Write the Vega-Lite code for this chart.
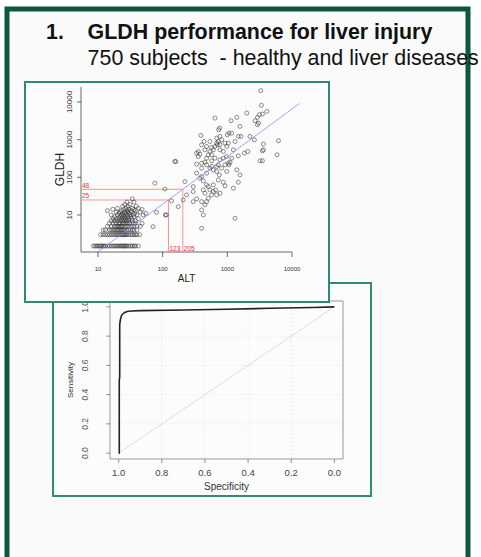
{
  "$schema": "https://vega.github.io/schema/vega-lite/v6.json",
  "width": 461,
  "height": 555,
  "autosize": {"type": "none"},
  "padding": {"left": 7, "top": 9, "right": 13, "bottom": 0},
  "background": "#ffffff",
  "config": {
    "view": {"stroke": "#0b5741", "strokeWidth": 5, "fill": "#fafafa"},
    "font": "Liberation Sans",
    "text": {"font": "Liberation Sans"}
  },
  "title": {
    "text": "1.\u00a0\u00a0\u00a0\u00a0GLDH performance for liver injury",
    "subtitle": "\u200b\u00a0\u00a0\u00a0\u00a0\u00a0\u00a0\u00a0750 subjects \u00a0- healthy and liver diseases",
    "anchor": "start", "frame": "group", "dx": 39, "offset": -60,
    "font": "Liberation Sans", "fontSize": 21.4, "fontWeight": "bold", "color": "#111111",
    "subtitleFont": "Liberation Sans", "subtitleFontSize": 21.4, "subtitleColor": "#111111", "subtitlePadding": 4
  },
  "datasets": {
    "sc": [
      {"ALT":8.5,"GLDH":1.5},{"ALT":9,"GLDH":1.5},{"ALT":9.5,"GLDH":1.5},{"ALT":10,"GLDH":1.5},{"ALT":10.5,"GLDH":1.5},{"ALT":11,"GLDH":1.5},{"ALT":11.5,"GLDH":1.5},{"ALT":12,"GLDH":1.5},{"ALT":12.5,"GLDH":1.5},{"ALT":13,"GLDH":1.5},{"ALT":14,"GLDH":1.5},{"ALT":15,"GLDH":1.5},{"ALT":16,"GLDH":1.5},{"ALT":17,"GLDH":1.5},{"ALT":18,"GLDH":1.5},{"ALT":19,"GLDH":1.5},{"ALT":20,"GLDH":1.5},{"ALT":21,"GLDH":1.5},{"ALT":22,"GLDH":1.5},{"ALT":23,"GLDH":1.5},{"ALT":24,"GLDH":1.5},{"ALT":25,"GLDH":1.5},{"ALT":26,"GLDH":1.5},{"ALT":27,"GLDH":1.5},{"ALT":28,"GLDH":1.5},{"ALT":30,"GLDH":1.5},{"ALT":32,"GLDH":1.5},{"ALT":34,"GLDH":1.5},{"ALT":36,"GLDH":1.5},{"ALT":38,"GLDH":1.5},{"ALT":42,"GLDH":1.5},
      {"ALT":11,"GLDH":3},{"ALT":12,"GLDH":3},{"ALT":13,"GLDH":3},{"ALT":14,"GLDH":3},{"ALT":15,"GLDH":3},{"ALT":16,"GLDH":3},{"ALT":17,"GLDH":3},{"ALT":18,"GLDH":3},{"ALT":19,"GLDH":3},{"ALT":20,"GLDH":3},{"ALT":21,"GLDH":3},{"ALT":22,"GLDH":3},{"ALT":23,"GLDH":3},{"ALT":24,"GLDH":3},{"ALT":25,"GLDH":3},{"ALT":26,"GLDH":3},{"ALT":27,"GLDH":3},{"ALT":28,"GLDH":3},{"ALT":30,"GLDH":3},{"ALT":32,"GLDH":3},{"ALT":34,"GLDH":3},{"ALT":36,"GLDH":3},{"ALT":38,"GLDH":3},{"ALT":40,"GLDH":3},{"ALT":44,"GLDH":3},
      {"ALT":12,"GLDH":4},{"ALT":13,"GLDH":4},{"ALT":15,"GLDH":4},{"ALT":16,"GLDH":4},{"ALT":17,"GLDH":4},{"ALT":18,"GLDH":4},{"ALT":19,"GLDH":4},{"ALT":20,"GLDH":4},{"ALT":21,"GLDH":4},{"ALT":22,"GLDH":4},{"ALT":23,"GLDH":4},{"ALT":24,"GLDH":4},{"ALT":25,"GLDH":4},{"ALT":26,"GLDH":4},{"ALT":28,"GLDH":4},{"ALT":30,"GLDH":4},{"ALT":32,"GLDH":4},{"ALT":34,"GLDH":4},{"ALT":36,"GLDH":4},{"ALT":40,"GLDH":4},
      {"ALT":14,"GLDH":5},{"ALT":16,"GLDH":5},{"ALT":18,"GLDH":5},{"ALT":19,"GLDH":5},{"ALT":20,"GLDH":5},{"ALT":21,"GLDH":5},{"ALT":22,"GLDH":5},{"ALT":23,"GLDH":5},{"ALT":24,"GLDH":5},{"ALT":26,"GLDH":5},{"ALT":28,"GLDH":5},{"ALT":30,"GLDH":5},{"ALT":33,"GLDH":5},{"ALT":36,"GLDH":5},{"ALT":40,"GLDH":5},{"ALT":45,"GLDH":5},
      {"ALT":15,"GLDH":6},{"ALT":17,"GLDH":6},{"ALT":19,"GLDH":6},{"ALT":21,"GLDH":6},{"ALT":22,"GLDH":6},{"ALT":24,"GLDH":6},{"ALT":25,"GLDH":6},{"ALT":27,"GLDH":6},{"ALT":29,"GLDH":6},{"ALT":31,"GLDH":6},{"ALT":35,"GLDH":6},{"ALT":38,"GLDH":6},{"ALT":48,"GLDH":6},
      {"ALT":16,"GLDH":7},{"ALT":18,"GLDH":7},{"ALT":20,"GLDH":7},{"ALT":22,"GLDH":7},{"ALT":24,"GLDH":7},{"ALT":26,"GLDH":7},{"ALT":28,"GLDH":7},{"ALT":30,"GLDH":7},{"ALT":34,"GLDH":7},{"ALT":38,"GLDH":7},
      {"ALT":17,"GLDH":8},{"ALT":19,"GLDH":8},{"ALT":21,"GLDH":8},{"ALT":23,"GLDH":8},{"ALT":25,"GLDH":8},{"ALT":27,"GLDH":8},{"ALT":30,"GLDH":8},{"ALT":33,"GLDH":8},{"ALT":42,"GLDH":8},
      {"ALT":18,"GLDH":9},{"ALT":22,"GLDH":9},{"ALT":24,"GLDH":9},{"ALT":26,"GLDH":9},{"ALT":29,"GLDH":9},{"ALT":32,"GLDH":9},{"ALT":36,"GLDH":9},
      {"ALT":16,"GLDH":10},{"ALT":20,"GLDH":10},{"ALT":23,"GLDH":10},{"ALT":25,"GLDH":10},{"ALT":28,"GLDH":10},{"ALT":31,"GLDH":10},{"ALT":35,"GLDH":10},{"ALT":40,"GLDH":10},{"ALT":50,"GLDH":10},
      {"ALT":21,"GLDH":11},{"ALT":24,"GLDH":11},{"ALT":27,"GLDH":11},{"ALT":30,"GLDH":11},{"ALT":37,"GLDH":11},{"ALT":55,"GLDH":11},
      {"ALT":19,"GLDH":12},{"ALT":22,"GLDH":12},{"ALT":26,"GLDH":12},{"ALT":29,"GLDH":12},{"ALT":33,"GLDH":12},{"ALT":45,"GLDH":12},
      {"ALT":14,"GLDH":13},{"ALT":23,"GLDH":13},{"ALT":28,"GLDH":13},{"ALT":32,"GLDH":13},{"ALT":38,"GLDH":13},
      {"ALT":25,"GLDH":14},{"ALT":30,"GLDH":14},{"ALT":36,"GLDH":14},{"ALT":48,"GLDH":14},
      {"ALT":20,"GLDH":15},{"ALT":27,"GLDH":15},{"ALT":34,"GLDH":15},{"ALT":42,"GLDH":15},
      {"ALT":24,"GLDH":17},{"ALT":29,"GLDH":17},{"ALT":39,"GLDH":17},
      {"ALT":26,"GLDH":19},{"ALT":31,"GLDH":19},{"ALT":28,"GLDH":22},{"ALT":36,"GLDH":22},
      {"ALT":34,"GLDH":26.6},{"ALT":17,"GLDH":14.2},
      {"ALT":75.6,"GLDH":70},{"ALT":108,"GLDH":49},{"ALT":137,"GLDH":23.6},{"ALT":154,"GLDH":263},{"ALT":160,"GLDH":263},{"ALT":174,"GLDH":16.7},{"ALT":208,"GLDH":25},{"ALT":221,"GLDH":77},{"ALT":234,"GLDH":34},{"ALT":80,"GLDH":11.8},{"ALT":114,"GLDH":10},{"ALT":110,"GLDH":10},{"ALT":71,"GLDH":4.9},
      {"ALT":3290,"GLDH":20000},{"ALT":3370,"GLDH":8130},{"ALT":4070,"GLDH":5630},{"ALT":3490,"GLDH":4780},{"ALT":3130,"GLDH":4590},{"ALT":2920,"GLDH":3900},{"ALT":2690,"GLDH":3180},{"ALT":2920,"GLDH":2490},{"ALT":3030,"GLDH":2750},{"ALT":2000,"GLDH":5080},{"ALT":1400,"GLDH":3900},{"ALT":1140,"GLDH":3180},{"ALT":644,"GLDH":3740},{"ALT":760,"GLDH":2030},{"ALT":734,"GLDH":1830},{"ALT":1570,"GLDH":2245},{"ALT":1167,"GLDH":1490},{"ALT":1062,"GLDH":1490},{"ALT":1000,"GLDH":1350},{"ALT":1480,"GLDH":1217},{"ALT":1630,"GLDH":1217},{"ALT":2240,"GLDH":1217},{"ALT":2620,"GLDH":991},{"ALT":3610,"GLDH":760},{"ALT":6180,"GLDH":933},{"ALT":5890,"GLDH":396},{"ALT":3610,"GLDH":537},{"ALT":3490,"GLDH":505},{"ALT":3210,"GLDH":274},{"ALT":3490,"GLDH":274},{"ALT":2070,"GLDH":485},{"ALT":1835,"GLDH":438},{"ALT":1480,"GLDH":372},{"ALT":1100,"GLDH":252},{"ALT":1037,"GLDH":237},{"ALT":977,"GLDH":357},{"ALT":867,"GLDH":485},{"ALT":769,"GLDH":537},{"ALT":769,"GLDH":730},{"ALT":684,"GLDH":809},{"ALT":644,"GLDH":659},{"ALT":684,"GLDH":1099},{"ALT":725,"GLDH":895},{"ALT":817,"GLDH":991},{"ALT":700,"GLDH":730},{"ALT":538,"GLDH":895},{"ALT":478,"GLDH":659},{"ALT":400,"GLDH":730},{"ALT":391,"GLDH":1294},{"ALT":435,"GLDH":895},{"ALT":571,"GLDH":620},{"ALT":607,"GLDH":537},{"ALT":507,"GLDH":396},{"ALT":478,"GLDH":322},{"ALT":377,"GLDH":412},{"ALT":335,"GLDH":438},{"ALT":355,"GLDH":357},{"ALT":335,"GLDH":223},{"ALT":400,"GLDH":237},{"ALT":400,"GLDH":175},{"ALT":478,"GLDH":214},{"ALT":571,"GLDH":194},{"ALT":607,"GLDH":158},{"ALT":538,"GLDH":175},{"ALT":684,"GLDH":143},{"ALT":751,"GLDH":116},{"ALT":725,"GLDH":85.5},{"ALT":867,"GLDH":74.1},{"ALT":920,"GLDH":59.2},{"ALT":1239,"GLDH":51.3},{"ALT":1480,"GLDH":74.1},{"ALT":1570,"GLDH":116},{"ALT":1400,"GLDH":158},{"ALT":1062,"GLDH":214},{"ALT":769,"GLDH":291},{"ALT":644,"GLDH":322},{"ALT":571,"GLDH":396},{"ALT":478,"GLDH":129},{"ALT":400,"GLDH":105},{"ALT":425,"GLDH":80.4},{"ALT":478,"GLDH":63},{"ALT":425,"GLDH":46.3},{"ALT":538,"GLDH":46.3},{"ALT":607,"GLDH":41.8},{"ALT":571,"GLDH":34.1},{"ALT":507,"GLDH":27.8},{"ALT":478,"GLDH":22.6},{"ALT":451,"GLDH":18.5},{"ALT":400,"GLDH":22.6},{"ALT":684,"GLDH":34.1},{"ALT":769,"GLDH":37.8},{"ALT":297,"GLDH":56.8},{"ALT":297,"GLDH":41.8},{"ALT":297,"GLDH":22.6},{"ALT":335,"GLDH":26.7},{"ALT":400,"GLDH":13.6},{"ALT":425,"GLDH":10},{"ALT":400,"GLDH":4.42},{"ALT":1315,"GLDH":8.15},{"ALT":1037,"GLDH":809},{"ALT":1239,"GLDH":537},{"ALT":920,"GLDH":809},{"ALT":769,"GLDH":1217},{"ALT":355,"GLDH":485},{"ALT":725,"GLDH":214},{"ALT":817,"GLDH":175},{"ALT":684,"GLDH":194},{"ALT":977,"GLDH":143},{"ALT":335,"GLDH":129},{"ALT":377,"GLDH":94.6},{"ALT":607,"GLDH":63},{"ALT":451,"GLDH":37.8},{"ALT":507,"GLDH":56.8},{"ALT":659,"GLDH":46.3},{"ALT":538,"GLDH":485},{"ALT":451,"GLDH":537},{"ALT":867,"GLDH":322},{"ALT":920,"GLDH":214},{"ALT":1167,"GLDH":322},{"ALT":1315,"GLDH":895},{"ALT":977,"GLDH":659},{"ALT":571,"GLDH":274},{"ALT":451,"GLDH":252}
    ],
    "fit": [{"ALT": 10, "GLDH": 1.06}, {"ALT": 13000, "GLDH": 9100}],
    "cut": [
      {"ALT": 5.46, "ALT2": 205, "GLDH": 48, "GLDH2": 48},
      {"ALT": 5.46, "ALT2": 123, "GLDH": 25, "GLDH2": 25},
      {"ALT": 123, "ALT2": 123, "GLDH": 1.04, "GLDH2": 25},
      {"ALT": 205, "ALT2": 205, "GLDH": 1.04, "GLDH2": 48}
    ],
    "cutlab": [
      {"ALT": 5.46, "GLDH": 48, "label": "48"},
      {"ALT": 5.46, "GLDH": 25, "label": "25"},
      {"ALT": 123, "GLDH": 1.04, "label": "123"},
      {"ALT": 205, "GLDH": 1.04, "label": "205"}
    ],
    "sticks": [{"v": 10}, {"v": 100}, {"v": 1000}, {"v": 10000}],
    "roc": [
      {"spec": 1.0, "sens": 0.0}, {"spec": 0.997, "sens": 0.001}, {"spec": 0.997, "sens": 0.5}, {"spec": 0.995, "sens": 0.52}, {"spec": 0.995, "sens": 0.88}, {"spec": 0.992, "sens": 0.91}, {"spec": 0.988, "sens": 0.935}, {"spec": 0.982, "sens": 0.95}, {"spec": 0.972, "sens": 0.962}, {"spec": 0.96, "sens": 0.968}, {"spec": 0.94, "sens": 0.972}, {"spec": 0.9, "sens": 0.974}, {"spec": 0.7, "sens": 0.978}, {"spec": 0.5, "sens": 0.984}, {"spec": 0.3, "sens": 0.99}, {"spec": 0.1, "sens": 0.996}, {"spec": 0.0, "sens": 1.0}
    ],
    "diag": [{"spec": 1, "sens": 0}, {"spec": 0, "sens": 1}],
    "grid": [{"g": 0.2}, {"g": 0.4}, {"g": 0.6}, {"g": 0.8}],
    "rticks": [{"v": 0}, {"v": 0.2}, {"v": 0.4}, {"v": 0.6}, {"v": 0.8}, {"v": 1}]
  },
  "layer": [
    {
      "layer": [
        {
          "data": {"values": [{}]},
          "mark": {"type": "rect", "fill": "#fcfcfc", "stroke": "#2e8a70", "strokeWidth": 2},
          "encoding": {
            "x": {"datum": 1.304, "type": "quantitative", "scale": {"domain": [-0.04, 1.04], "range": [336, 103], "nice": false, "zero": false}, "axis": null},
            "x2": {"datum": -0.17},
            "y": {"datum": 1.163, "type": "quantitative", "scale": {"domain": [-0.04, 1.04], "range": [450, 292], "nice": false, "zero": false}, "axis": null},
            "y2": {"datum": -0.293}
          }
        },
        {
          "data": {"name": "grid"},
          "mark": {"type": "rule", "stroke": "#e4e4e4", "strokeWidth": 0.7, "strokeDash": [2, 2]},
          "encoding": {
            "x": {"field": "g", "type": "quantitative", "scale": {"domain": [-0.04, 1.04], "range": [336, 103], "nice": false, "zero": false}, "axis": null},
            "y": {"datum": -0.04, "type": "quantitative", "scale": {"domain": [-0.04, 1.04], "range": [450, 292], "nice": false, "zero": false}, "axis": null},
            "y2": {"datum": 1.04}
          }
        },
        {
          "data": {"name": "grid"},
          "mark": {"type": "rule", "stroke": "#e4e4e4", "strokeWidth": 0.7, "strokeDash": [2, 2]},
          "encoding": {
            "y": {"field": "g", "type": "quantitative", "scale": {"domain": [-0.04, 1.04], "range": [450, 292], "nice": false, "zero": false}, "axis": null},
            "x": {"datum": -0.04, "type": "quantitative", "scale": {"domain": [-0.04, 1.04], "range": [336, 103], "nice": false, "zero": false}, "axis": null},
            "x2": {"datum": 1.04}
          }
        },
        {
          "data": {"values": [{}]},
          "mark": {"type": "rect", "fillOpacity": 0, "stroke": "#999999", "strokeWidth": 1},
          "encoding": {
            "x": {"datum": 1.04, "type": "quantitative", "scale": {"domain": [-0.04, 1.04], "range": [336, 103], "nice": false, "zero": false}, "axis": null},
            "x2": {"datum": -0.04},
            "y": {"datum": 1.04, "type": "quantitative", "scale": {"domain": [-0.04, 1.04], "range": [450, 292], "nice": false, "zero": false}, "axis": null},
            "y2": {"datum": -0.04}
          }
        },
        {
          "data": {"name": "rticks"},
          "mark": {"type": "rule", "stroke": "#777777", "strokeWidth": 0.8, "y2Offset": 4},
          "encoding": {
            "x": {"field": "v", "type": "quantitative", "scale": {"domain": [-0.04, 1.04], "range": [336, 103], "nice": false, "zero": false}, "axis": null},
            "y": {"datum": -0.04, "type": "quantitative", "scale": {"domain": [-0.04, 1.04], "range": [450, 292], "nice": false, "zero": false}, "axis": null},
            "y2": {"datum": -0.04}
          }
        },
        {
          "data": {"name": "rticks"},
          "mark": {"type": "text", "fontSize": 9.5, "color": "#444444", "align": "center", "baseline": "middle", "yOffset": 14},
          "encoding": {
            "x": {"field": "v", "type": "quantitative", "scale": {"domain": [-0.04, 1.04], "range": [336, 103], "nice": false, "zero": false}, "axis": null},
            "y": {"datum": -0.04, "type": "quantitative", "scale": {"domain": [-0.04, 1.04], "range": [450, 292], "nice": false, "zero": false}, "axis": null},
            "text": {"field": "v", "type": "quantitative", "format": ".1f"}
          }
        },
        {
          "data": {"name": "rticks"},
          "mark": {"type": "rule", "stroke": "#777777", "strokeWidth": 0.8, "x2Offset": -4},
          "encoding": {
            "y": {"field": "v", "type": "quantitative", "scale": {"domain": [-0.04, 1.04], "range": [450, 292], "nice": false, "zero": false}, "axis": null},
            "x": {"datum": 1.04, "type": "quantitative", "scale": {"domain": [-0.04, 1.04], "range": [336, 103], "nice": false, "zero": false}, "axis": null},
            "x2": {"datum": 1.04}
          }
        },
        {
          "data": {"name": "rticks"},
          "mark": {"type": "text", "fontSize": 8.5, "color": "#555555", "align": "center", "baseline": "middle", "angle": 270, "xOffset": -25},
          "encoding": {
            "y": {"field": "v", "type": "quantitative", "scale": {"domain": [-0.04, 1.04], "range": [450, 292], "nice": false, "zero": false}, "axis": null},
            "x": {"datum": 1.04, "type": "quantitative", "scale": {"domain": [-0.04, 1.04], "range": [336, 103], "nice": false, "zero": false}, "axis": null},
            "text": {"field": "v", "type": "quantitative", "format": ".1f"}
          }
        },
        {
          "data": {"values": [{}]},
          "mark": {"type": "text", "text": "Specificity", "fontSize": 10, "color": "#333333", "align": "center", "baseline": "middle", "yOffset": 28},
          "encoding": {
            "x": {"datum": 0.5, "type": "quantitative", "scale": {"domain": [-0.04, 1.04], "range": [336, 103], "nice": false, "zero": false}, "axis": null},
            "y": {"datum": -0.04, "type": "quantitative", "scale": {"domain": [-0.04, 1.04], "range": [450, 292], "nice": false, "zero": false}, "axis": null}
          }
        },
        {
          "data": {"values": [{}]},
          "mark": {"type": "text", "text": "Sensitivity", "fontSize": 8, "color": "#333333", "align": "center", "baseline": "middle", "angle": 270, "xOffset": -39},
          "encoding": {
            "x": {"datum": 1.04, "type": "quantitative", "scale": {"domain": [-0.04, 1.04], "range": [336, 103], "nice": false, "zero": false}, "axis": null},
            "y": {"datum": 0.5, "type": "quantitative", "scale": {"domain": [-0.04, 1.04], "range": [450, 292], "nice": false, "zero": false}, "axis": null}
          }
        },
        {
          "data": {"name": "diag"},
          "mark": {"type": "line", "stroke": "#d6d6d6", "strokeWidth": 0.8},
          "encoding": {
            "x": {"field": "spec", "type": "quantitative", "scale": {"domain": [-0.04, 1.04], "range": [336, 103], "nice": false, "zero": false}, "axis": null},
            "y": {"field": "sens", "type": "quantitative", "scale": {"domain": [-0.04, 1.04], "range": [450, 292], "nice": false, "zero": false}, "axis": null}
          }
        },
        {
          "data": {"name": "roc"},
          "mark": {"type": "line", "stroke": "#222222", "strokeWidth": 1.6},
          "encoding": {
            "x": {"field": "spec", "type": "quantitative", "scale": {"domain": [-0.04, 1.04], "range": [336, 103], "nice": false, "zero": false}, "axis": null},
            "y": {"field": "sens", "type": "quantitative", "scale": {"domain": [-0.04, 1.04], "range": [450, 292], "nice": false, "zero": false}, "axis": null},
            "order": {"field": "sens", "type": "quantitative"}
          }
        }
      ]
    },
    {
      "layer": [
        {
          "data": {"values": [{}]},
          "mark": {"type": "rect", "fill": "#fcfcfc", "stroke": "#2e8a70", "strokeWidth": 2},
          "encoding": {
            "x": {"datum": 0.743, "type": "quantitative", "scale": {"type": "log", "domain": [5.46, 10000], "range": [74, 285], "nice": false}, "axis": null},
            "x2": {"datum": 37350},
            "y": {"datum": 33960, "type": "quantitative", "scale": {"type": "log", "domain": [1.04, 25000], "range": [243, 78], "nice": false}, "axis": null},
            "y2": {"datum": 0.0491}
          }
        },
        {
          "data": {"values": [{}]},
          "mark": {"type": "rule", "stroke": "#444444", "strokeWidth": 0.8},
          "encoding": {
            "x": {"datum": 5.46, "type": "quantitative", "scale": {"type": "log", "domain": [5.46, 10000], "range": [74, 285], "nice": false}, "axis": null},
            "x2": {"datum": 10000},
            "y": {"datum": 1.04, "type": "quantitative", "scale": {"type": "log", "domain": [1.04, 25000], "range": [243, 78], "nice": false}, "axis": null}
          }
        },
        {
          "data": {"values": [{}]},
          "mark": {"type": "rule", "stroke": "#444444", "strokeWidth": 0.8},
          "encoding": {
            "x": {"datum": 5.46, "type": "quantitative", "scale": {"type": "log", "domain": [5.46, 10000], "range": [74, 285], "nice": false}, "axis": null},
            "y": {"datum": 1.04, "type": "quantitative", "scale": {"type": "log", "domain": [1.04, 25000], "range": [243, 78], "nice": false}, "axis": null},
            "y2": {"datum": 25000}
          }
        },
        {
          "data": {"name": "sticks"},
          "mark": {"type": "rule", "stroke": "#444444", "strokeWidth": 0.8, "y2Offset": 5},
          "encoding": {
            "x": {"field": "v", "type": "quantitative", "scale": {"type": "log", "domain": [5.46, 10000], "range": [74, 285], "nice": false}, "axis": null},
            "y": {"datum": 1.04, "type": "quantitative", "scale": {"type": "log", "domain": [1.04, 25000], "range": [243, 78], "nice": false}, "axis": null},
            "y2": {"datum": 1.04}
          }
        },
        {
          "data": {"name": "sticks"},
          "mark": {"type": "text", "fontSize": 6, "color": "#333333", "align": "center", "baseline": "middle", "yOffset": 16.5},
          "encoding": {
            "x": {"field": "v", "type": "quantitative", "scale": {"type": "log", "domain": [5.46, 10000], "range": [74, 285], "nice": false}, "axis": null},
            "y": {"datum": 1.04, "type": "quantitative", "scale": {"type": "log", "domain": [1.04, 25000], "range": [243, 78], "nice": false}, "axis": null},
            "text": {"field": "v", "type": "quantitative", "format": "d"}
          }
        },
        {
          "data": {"name": "sticks"},
          "mark": {"type": "rule", "stroke": "#444444", "strokeWidth": 0.8, "x2Offset": -4},
          "encoding": {
            "y": {"field": "v", "type": "quantitative", "scale": {"type": "log", "domain": [1.04, 25000], "range": [243, 78], "nice": false}, "axis": null},
            "x": {"datum": 5.46, "type": "quantitative", "scale": {"type": "log", "domain": [5.46, 10000], "range": [74, 285], "nice": false}, "axis": null},
            "x2": {"datum": 5.46}
          }
        },
        {
          "data": {"name": "sticks"},
          "mark": {"type": "text", "fontSize": 8, "color": "#333333", "align": "center", "baseline": "middle", "angle": 270, "xOffset": -11},
          "encoding": {
            "y": {"field": "v", "type": "quantitative", "scale": {"type": "log", "domain": [1.04, 25000], "range": [243, 78], "nice": false}, "axis": null},
            "x": {"datum": 5.46, "type": "quantitative", "scale": {"type": "log", "domain": [5.46, 10000], "range": [74, 285], "nice": false}, "axis": null},
            "text": {"field": "v", "type": "quantitative", "format": "d"}
          }
        },
        {
          "data": {"values": [{}]},
          "mark": {"type": "text", "text": "ALT", "fontSize": 10, "color": "#222222", "align": "center", "baseline": "middle", "yOffset": 27},
          "encoding": {
            "x": {"datum": 233.7, "type": "quantitative", "scale": {"type": "log", "domain": [5.46, 10000], "range": [74, 285], "nice": false}, "axis": null},
            "y": {"datum": 1.04, "type": "quantitative", "scale": {"type": "log", "domain": [1.04, 25000], "range": [243, 78], "nice": false}, "axis": null}
          }
        },
        {
          "data": {"values": [{}]},
          "mark": {"type": "text", "text": "GLDH", "fontSize": 12, "color": "#222222", "align": "center", "baseline": "middle", "angle": 270, "xOffset": -21},
          "encoding": {
            "x": {"datum": 5.46, "type": "quantitative", "scale": {"type": "log", "domain": [5.46, 10000], "range": [74, 285], "nice": false}, "axis": null},
            "y": {"datum": 161, "type": "quantitative", "scale": {"type": "log", "domain": [1.04, 25000], "range": [243, 78], "nice": false}, "axis": null}
          }
        },
        {
          "data": {"name": "cut"},
          "mark": {"type": "rule", "stroke": "#ff7777", "strokeWidth": 0.8},
          "encoding": {
            "x": {"field": "ALT", "type": "quantitative", "scale": {"type": "log", "domain": [5.46, 10000], "range": [74, 285], "nice": false}, "axis": null},
            "x2": {"field": "ALT2"},
            "y": {"field": "GLDH", "type": "quantitative", "scale": {"type": "log", "domain": [1.04, 25000], "range": [243, 78], "nice": false}, "axis": null},
            "y2": {"field": "GLDH2"}
          }
        },
        {
          "data": {"name": "sc"},
          "mark": {"type": "point", "shape": "circle", "filled": false, "size": 16, "strokeWidth": 0.65, "color": "#333333", "opacity": 0.85},
          "encoding": {
            "x": {"field": "ALT", "type": "quantitative", "scale": {"type": "log", "domain": [5.46, 10000], "range": [74, 285], "nice": false}, "axis": null},
            "y": {"field": "GLDH", "type": "quantitative", "scale": {"type": "log", "domain": [1.04, 25000], "range": [243, 78], "nice": false}, "axis": null}
          }
        },
        {
          "data": {"name": "fit"},
          "mark": {"type": "line", "stroke": "#8a8aff", "strokeWidth": 0.8},
          "encoding": {
            "x": {"field": "ALT", "type": "quantitative", "scale": {"type": "log", "domain": [5.46, 10000], "range": [74, 285], "nice": false}, "axis": null},
            "y": {"field": "GLDH", "type": "quantitative", "scale": {"type": "log", "domain": [1.04, 25000], "range": [243, 78], "nice": false}, "axis": null}
          }
        },
        {
          "data": {"name": "cutlab"},
          "mark": {"type": "text", "color": "#ee3333", "fontSize": 6.5, "align": "left", "baseline": "bottom", "dx": 1, "dy": -0.5},
          "encoding": {
            "x": {"field": "ALT", "type": "quantitative", "scale": {"type": "log", "domain": [5.46, 10000], "range": [74, 285], "nice": false}, "axis": null},
            "y": {"field": "GLDH", "type": "quantitative", "scale": {"type": "log", "domain": [1.04, 25000], "range": [243, 78], "nice": false}, "axis": null},
            "text": {"field": "label"}
          }
        }
      ]
    }
  ],
  "resolve": {"scale": {"x": "independent", "y": "independent"}}
}
